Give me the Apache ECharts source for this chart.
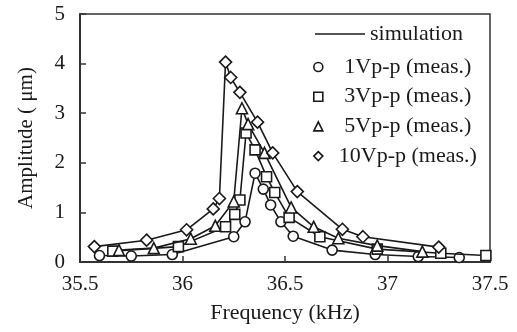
<!DOCTYPE html>
<html>
<head>
<meta charset="utf-8">
<script src="https://cdn.jsdelivr.net/npm/echarts@6/dist/echarts.min.js"></script>
<style>
  html, body { margin: 0; padding: 0; background: #fff; }
  #chart { width: 517px; height: 332px; }
</style>
</head>
<body>
<div id="chart"></div>
<script>
// 数据：频率 (kHz) / 振幅 (μm)
const xTicks = [35.5, 36, 36.5, 37, 37.5]
const yTicks = [0, 1, 2, 3, 4, 5]

const freq1V = [35.595, 35.75, 35.95, 36.25, 36.305, 36.354, 36.394, 36.43, 36.48, 36.54, 36.73, 36.94, 37.15, 37.35]
const amp1V = [0.13, 0.12, 0.15, 0.51, 0.81, 1.79, 1.47, 1.15, 0.81, 0.52, 0.24, 0.15, 0.11, 0.09]

const freq3V = [35.66, 35.98, 36.21, 36.255, 36.28, 36.31, 36.354, 36.41, 36.45, 36.52, 36.67, 36.95, 37.26, 37.48]
const amp3V = [0.22, 0.31, 0.71, 0.96, 1.25, 2.6, 2.26, 1.72, 1.4, 0.9, 0.51, 0.26, 0.175, 0.13]

const freq5V = [35.69, 35.86, 36.04, 36.16, 36.25, 36.29, 36.32, 36.4, 36.53, 36.64, 36.76, 36.95, 37.17]
const amp5V = [0.24, 0.28, 0.47, 0.73, 1.22, 3.1, 2.78, 2.2, 1.1, 0.71, 0.48, 0.33, 0.21]

const freq10V = [35.57, 35.825, 36.02, 36.15, 36.18, 36.21, 36.235, 36.28, 36.366, 36.44, 36.56, 36.78, 36.88, 37.25]
const amp10V = [0.31, 0.44, 0.65, 1.07, 1.28, 4.03, 3.72, 3.42, 2.82, 2.2, 1.42, 0.66, 0.51, 0.3]

const seriesNames = ['1Vp-p (meas.)', '3Vp-p (meas.)', '5Vp-p (meas.)', '10Vp-p (meas.)']
const symbols = ['circle', 'rect', 'triangle', 'diamond']

const font = 'Liberation Serif'
const ink = '#1a1a1a'

const pairs = (xs, ys) => xs.map((x, i) => [x, ys[i]])
const measured = [
  pairs(freq1V, amp1V),
  pairs(freq3V, amp3V),
  pairs(freq5V, amp5V),
  pairs(freq10V, amp10V)
]
const symbolSizes = [10, 10, 11, 12]

const markerStyle = { color: '#fff', borderColor: ink, borderWidth: 1.6 }

const myChart = echarts.init(document.getElementById('chart'))
const option = {
  animation: false,
  grid: {
    left: 80,
    right: 27,
    top: 14,
    bottom: 70,
    show: true,
    borderColor: '#333',
    borderWidth: 1.5
  },
  legend: [
    {
      // simulation 线
      left: 315,
      top: 23,
      padding: 0,
      itemWidth: 50,
      itemHeight: 1.5,
      data: [{ name: 'simulation', icon: 'rect', itemStyle: { color: ink } }],
      textStyle: { fontFamily: font, fontSize: 22, color: ink }
    },
    {
      // 测量点图例
      left: 313,
      top: 56,
      padding: 0,
      orient: 'vertical',
      itemGap: 7.7,
      itemWidth: 9,
      itemHeight: 9,
      data: seriesNames.map((name, i) => ({
        name: name,
        icon: symbols[i],
        itemStyle: markerStyle
      })),
      formatter: (name) => (name.startsWith('10') ? name : ' ' + name),
      textStyle: { fontFamily: font, fontSize: 22, color: ink, padding: [0, 0, 0, 11] }
    }
  ],
  xAxis: {
    type: 'value',
    min: xTicks[0],
    max: xTicks[xTicks.length - 1],
    interval: 0.5,
    name: 'Frequency (kHz)',
    nameLocation: 'middle',
    nameGap: 40,
    nameTextStyle: { fontFamily: font, fontSize: 22, color: ink },
    axisLine: { lineStyle: { color: '#333', width: 2 } },
    axisTick: { inside: true, length: 6, lineStyle: { color: '#333', width: 1.5 } },
    axisLabel: { fontFamily: font, fontSize: 21, color: ink, margin: 12 },
    splitLine: { show: false }
  },
  yAxis: {
    type: 'value',
    min: yTicks[0],
    max: yTicks[yTicks.length - 1],
    interval: 1,
    name: 'Amplitude ( μm)',
    nameLocation: 'middle',
    nameGap: 43,
    nameTextStyle: { fontFamily: font, fontSize: 21, color: ink },
    axisLine: { show: true, lineStyle: { color: '#333', width: 2 } },
    axisTick: { show: true, inside: true, length: 6, lineStyle: { color: '#333', width: 1.5 } },
    axisLabel: { fontFamily: font, fontSize: 21, color: ink, margin: 15 },
    splitLine: { show: false }
  },
  series: [
    {
      name: 'simulation',
      type: 'line',
      data: [],
      color: ink
    }
  ].concat(
    measured.map((data, i) => ({
      name: seriesNames[i],
      type: 'line',
      data: data,
      symbol: symbols[i],
      symbolSize: symbolSizes[i],
      showAllSymbol: true,
      lineStyle: { color: ink, width: 1.6 },
      itemStyle: markerStyle,
      z: 2 + i
    }))
  )
}
option && myChart.setOption(option)
</script>
</body>
</html>
